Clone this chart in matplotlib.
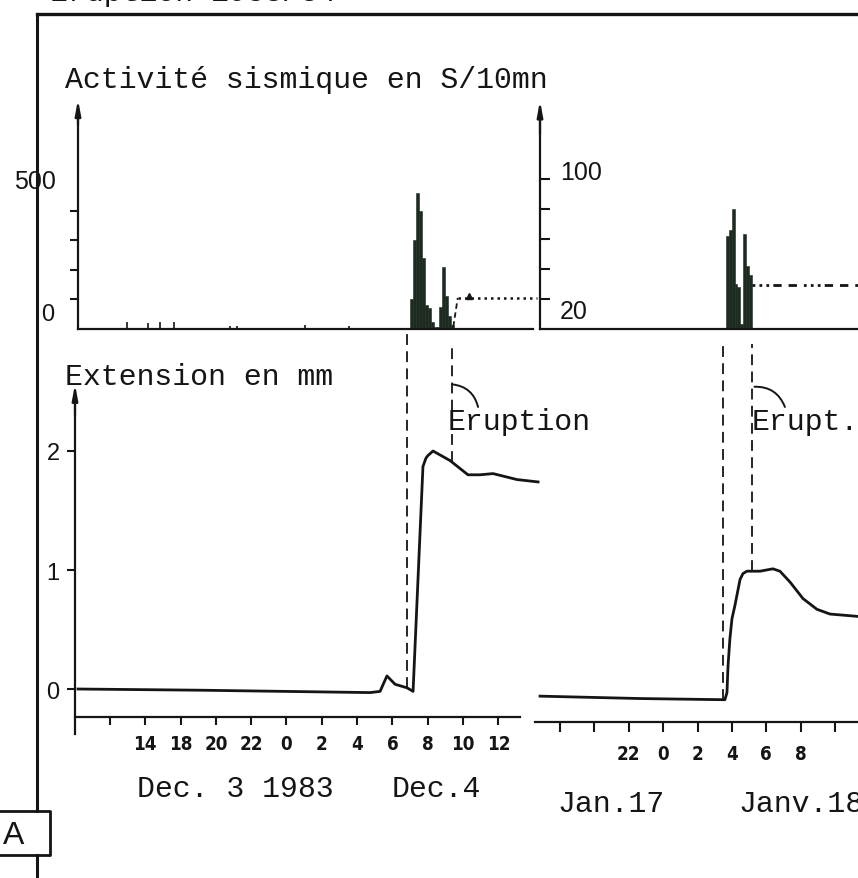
import matplotlib.pyplot as plt
import numpy as np

W, H = 858, 879
MONO = 'Liberation Mono'
SANS = 'Liberation Sans'
INK = '#151515'
BAR = '#1d2a20'

# time axes: hours counted from the first tick of each record
dec_ticks = list(range(0, 24, 2))
dec_tick_labels = ['', '14', '18', '20', '22', '0', '2', '4', '6', '8', '10', '12']
jan_ticks = list(range(0, 17, 2))
jan_tick_labels = ['', '', '22', '0', '2', '4', '6', '8', '']

# seismic activity, 10 minute bins (S/10mn)
bin_width = 1 / 6
dec_bin_start = 17.0
dec_counts = [100, 300, 460, 400, 240, 80, 70, 25, 8, 8, 75, 210, 110, 45, 15]
dec_isolated_t = [0.96, 2.15, 2.83, 3.63, 6.8, 7.2, 11.05, 13.54]
dec_isolated_counts = [25, 20, 25, 25, 10, 10, 12, 10]
jan_bin_start = 9.65
jan_counts = [62, 66, 80, 30, 28, 3, 63, 42, 36]
dec_link_level = 105
jan_link_level = 29

# extension (mm)
dec_ext_t = [-1.81, 5.1, 14.73, 15.3, 15.69, 16.15, 16.83, 17.17, 17.73, 17.9, 18.0,
             18.3, 19.26, 20.28, 20.96, 21.7, 23.06, 24.25]
dec_ext_mm = [0.0, -0.01, -0.03, -0.02, 0.11, 0.04, 0.01, -0.02, 1.87, 1.94, 1.96,
              2.00, 1.92, 1.80, 1.80, 1.81, 1.76, 1.74]
jan_ext_t = [-1.16, 4.65, 9.59, 9.71, 9.77, 9.88, 10.0, 10.17, 10.47, 10.64, 10.87,
             11.63, 12.38, 12.79, 13.37, 14.13, 14.94, 15.70, 17.33]
jan_ext_mm = [-0.06, -0.08, -0.09, -0.03, 0.19, 0.42, 0.59, 0.70, 0.92, 0.97, 0.99,
              0.99, 1.01, 0.99, 0.90, 0.76, 0.67, 0.63, 0.61]

# onset of activity / eruption
dec_events = [16.83, 19.38]
jan_events = [9.48, 11.16]

fig = plt.figure(figsize=(W / 100, H / 100), dpi=100)

tick_font = dict(fontsize=13.5, fontweight='bold', family='DejaVu Sans',
                 fontstretch='condensed', color=INK)


def px_axes(x0, y0, x1, y1):
    return fig.add_axes([x0 / W, 1 - y1 / H, (x1 - x0) / W, (y1 - y0) / H])


def bare(ax):
    for s in ax.spines.values():
        s.set_visible(False)
        s.set_linewidth(1.6)
        s.set_color(INK)
    ax.patch.set_alpha(0)
    ax.set_xticks([])
    ax.set_yticks([])


def up_arrow(ax, x, y0, y1):
    ax.annotate('', xy=(x, y1), xytext=(x, y0), annotation_clip=False,
                arrowprops=dict(arrowstyle='-|>,head_length=0.9,head_width=0.17',
                                color=INK, lw=1.6, shrinkA=0, shrinkB=0))


# page layer: frame, panel letter, captions
page = fig.add_axes([0, 0, 1, 1])
page.set_xlim(0, W)
page.set_ylim(H, 0)
page.axis('off')
page.plot([37, W + 5], [15, 15], color=INK, lw=2.4)
page.plot([37, 37], [15, 812], color=INK, lw=2.2)
page.plot([37, 37], [856, H + 5], color=INK, lw=2.2)
page.plot([-3, 50, 50, -3], [812, 812, 856, 856], color=INK, lw=2.0)
page.text(14, 836, 'A', fontsize=23, family=SANS, ha='center', va='center', color=INK)
page.text(50, 1, 'Eruption 1983/84', fontsize=21.5, family=MONO, color=INK, va='baseline')

page.text(65, 88, 'Activité sismique en S/10mn', fontsize=21.5, family=MONO, color=INK, va='baseline')
page.text(65, 385, 'Extension en mm', fontsize=21.5, family=MONO, color=INK, va='baseline')
page.text(448, 430, 'Eruption', fontsize=21.5, family=MONO, color=INK, va='baseline')
page.text(752, 430, 'Erupt.', fontsize=21.5, family=MONO, color=INK, va='baseline')
page.text(137, 797, 'Dec. 3 1983', fontsize=21.5, family=MONO, color=INK, va='baseline')
page.text(392, 797, 'Dec.4', fontsize=21.5, family=MONO, color=INK, va='baseline')
page.text(557, 812, 'Jan.17', fontsize=21.5, family=MONO, color=INK, va='baseline')
page.text(738, 812, 'Janv.18', fontsize=21.5, family=MONO, color=INK, va='baseline')

# ---- seismic activity, December ----
ax = px_axes(78, 100, 540, 330)
bare(ax)
ax.set_xlim(-1.81, 24.36)
ax.set_ylim(0, 777)
ax.bar(dec_bin_start + np.arange(len(dec_counts)) * bin_width, dec_counts,
       width=bin_width, align='edge', color=BAR, edgecolor=BAR, lw=0.4)
ax.vlines(dec_isolated_t, 0, dec_isolated_counts, color=INK, lw=1.2)
link_t0 = dec_bin_start + len(dec_counts) * bin_width
ax.plot([link_t0 - 0.05, link_t0 + 0.2], [8, dec_link_level], color=INK, lw=1.3, ls=(0, (3, 2)))
ax.plot([link_t0 + 0.2, 24.2], [dec_link_level] * 2, color=INK, lw=1.8, ls=(0, (1, 1.6)))
ax.plot(link_t0 + 0.85, dec_link_level + 5, marker='^', ms=4, color=INK)
ax.spines['left'].set_visible(True)
ax.spines['left'].set_bounds(0, 740)
ax.spines['bottom'].set_visible(True)
ax.spines['bottom'].set_bounds(-1.81, 23.97)
ax.set_yticks([100, 200, 300, 400])
ax.set_yticklabels([])
ax.tick_params(axis='y', direction='out', length=6, width=1.5, color=INK)
up_arrow(ax, -1.81, 690, 775)
yt = ax.get_yaxis_transform()
ax.text(-0.093, 500, '500', transform=yt, fontsize=18, family=SANS, ha='center', va='center', color=INK)
ax.text(-0.065, 12, '0', transform=yt, fontsize=17, family=SANS, ha='center', va='bottom', color=INK)

# ---- seismic activity, January ----
ax = px_axes(540, 100, 858, 330)
bare(ax)
ax.set_xlim(-1.16, 17.33)
ax.set_ylim(0, 153.3)
ax.bar(jan_bin_start + np.arange(len(jan_counts)) * bin_width, jan_counts,
       width=bin_width, align='edge', color=BAR, edgecolor=BAR, lw=0.4)
jan_link_t0 = jan_bin_start + len(jan_counts) * bin_width
ax.plot([jan_link_t0, 17.5], [jan_link_level] * 2, color=INK, lw=2.0,
        ls=(0, (1, 1.5, 1, 1.5, 1, 1.5, 3, 2.5, 3, 2.5)), clip_on=False)
ax.spines['left'].set_visible(True)
ax.spines['left'].set_bounds(0, 148)
ax.spines['bottom'].set_visible(True)
ax.set_yticks([20, 40, 60, 80, 100])
ax.set_yticklabels([])
ax.tick_params(axis='y', direction='in', length=7, width=1.5, color=INK)
up_arrow(ax, -1.16, 130, 152)
yt = ax.get_yaxis_transform()
ax.text(0.063, 100, '100', transform=yt, fontsize=18, family=SANS, ha='left', va='baseline', color=INK)
ax.text(0.063, 20, '20', transform=yt, fontsize=18, family=SANS, ha='left', va='top', color=INK)

# ---- extension, December ----
ax = px_axes(75, 380, 540, 735)
bare(ax)
ax.set_xlim(-1.98, 24.36)
ax.set_ylim(-0.378, 2.605)
ax.plot(dec_ext_t, dec_ext_mm, color=INK, lw=2.0, solid_joinstyle='round', clip_on=False)
ax.spines['left'].set_visible(True)
ax.spines['left'].set_bounds(-0.378, 2.45)
ax.spines['bottom'].set_visible(True)
ax.spines['bottom'].set_position(('data', -0.235))
ax.spines['bottom'].set_bounds(-1.98, 23.2)
up_arrow(ax, -1.98, 2.3, 2.56)
ax.set_yticks([0, 1, 2], ['0', '1', '2'], fontsize=17, family=SANS, color=INK)
ax.set_xticks(dec_ticks, dec_tick_labels, **tick_font)
ax.tick_params(axis='y', direction='out', length=6, width=1.5, pad=5, color=INK)
ax.tick_params(axis='x', direction='out', length=6, width=1.5, pad=6, color=INK)
tops = [2.98, 2.9]
for t, top in zip(dec_events, tops):
    bottom = np.interp(t, dec_ext_t, dec_ext_mm)
    ax.plot([t, t], [bottom, top], color=INK, lw=1.3, ls=(0, (6, 3.5)), clip_on=False)
ax.annotate('', xy=(20.85, 2.37), xytext=(dec_events[1], 2.56), annotation_clip=False,
            arrowprops=dict(arrowstyle='-', color=INK, lw=1.4,
                            connectionstyle='arc3,rad=-0.35', shrinkA=0, shrinkB=0))

# ---- extension, January ----
ax = px_axes(535, 380, 858, 735)
bare(ax)
ax.set_xlim(-1.453, 17.33)
ax.set_ylim(-0.378, 2.605)
ax.plot(jan_ext_t, jan_ext_mm, color=INK, lw=2.0, solid_joinstyle='round', clip_on=False)
ax.spines['bottom'].set_visible(True)
ax.spines['bottom'].set_position(('data', -0.277))
ax.set_xticks(jan_ticks, jan_tick_labels, **tick_font)
ax.tick_params(axis='x', direction='out', length=7, width=1.5, pad=9, color=INK)
for t in jan_events:
    bottom = np.interp(t, jan_ext_t, jan_ext_mm)
    ax.plot([t, t], [bottom, 2.9], color=INK, lw=1.3, ls=(0, (6, 3.5)), clip_on=False)
ax.annotate('', xy=(13.08, 2.37), xytext=(jan_events[1] + 0.15, 2.54), annotation_clip=False,
            arrowprops=dict(arrowstyle='-', color=INK, lw=1.4,
                            connectionstyle='arc3,rad=-0.35', shrinkA=0, shrinkB=0))

fig.savefig('out.png', dpi=100)
